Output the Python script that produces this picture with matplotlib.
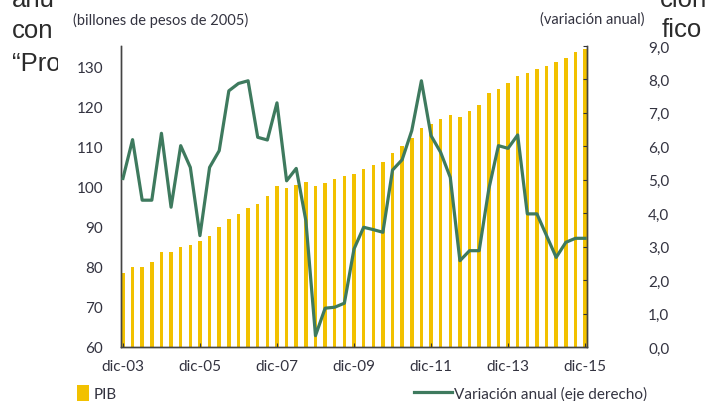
import matplotlib
matplotlib.use("Agg")
import matplotlib.pyplot as plt
from matplotlib.patches import Patch
from matplotlib.lines import Line2D
from matplotlib.ticker import FuncFormatter
from matplotlib.transforms import Bbox, TransformedBbox

# ---- data (quarterly, dic-03 .. dic-15) ----
pib = [78.4, 80.0, 80.0, 81.1, 83.6, 83.6, 85.0, 85.4, 86.3, 87.7,
       89.8, 91.8, 93.1, 94.7, 95.6, 97.6, 100.1, 99.7, 100.4, 101.1,
       100.1, 100.8, 101.8, 102.5, 103.2, 104.3, 105.3, 106.0, 108.4, 110.2,
       112.0, 114.5, 115.5, 116.7, 117.7, 117.3, 118.7, 120.2, 123.4, 124.4,
       125.8, 127.5, 128.3, 129.3, 130.0, 131.1, 132.1, 133.5, 134.3]
variacion = [5.04, 6.20, 4.39, 4.39, 6.39, 4.18, 6.02, 5.37, 3.33, 5.37,
             5.87, 7.66, 7.88, 7.96, 6.27, 6.19, 7.30, 4.97, 5.34, 3.78,
             0.34, 1.16, 1.19, 1.31, 2.93, 3.58, 3.51, 3.43, 5.29, 5.60,
             6.47, 7.96, 6.32, 5.82, 5.07, 2.58, 2.88, 2.88, 4.72, 6.02,
             5.94, 6.34, 3.98, 3.98, 3.33, 2.68, 3.13, 3.25, 3.25]
tick_labels = ["dic-03", "dic-05", "dic-07", "dic-09", "dic-11", "dic-13", "dic-15"]

GOLD = "#F2C100"
GREEN = "#3E7A5E"
TXT = "#333340"
plt.rcParams["font.family"] = ["Lato", "DejaVu Sans"]

fig = plt.figure(figsize=(7.05, 4.02), dpi=100)
W, H = 705, 402

# fragments of the surrounding document text, clipped at the chart box
left_clip = TransformedBbox(Bbox([[0, 0], [58 / W, 1]]), fig.transFigure)
right_clip = TransformedBbox(Bbox([[652 / W, 0], [1, 1]]), fig.transFigure)
doc = dict(family=["Liberation Sans"], fontsize=18.5, color="#2b2b2b",
           va="baseline", clip_on=True)
for s, xpix, base, ha, clip in [("anu", 12, 7, "left", left_clip),
                                ("con", 12, 38, "left", left_clip),
                                ("\u201cPro", 12, 71, "left", left_clip),
                                ("ción", 707, 7, "right", right_clip),
                                ("fico", 702, 37, "right", right_clip)]:
    t = fig.text(xpix / W, 1 - base / H, s, ha=ha, **doc)
    t.set_clip_box(clip)

ax = fig.add_axes([121 / W, 1 - 348 / H, (587 - 121) / W, (348 - 47) / H])
ax.patch.set_alpha(0)
x = list(range(len(pib)))
ax.bar(x, pib, width=0.36, color=GOLD, zorder=1)
ax.set_ylim(60, 135)
ax.set_xlim(-0.2, len(pib) - 0.8)
ax.set_yticks(range(60, 131, 10))
ax.set_xticks(range(0, len(pib), 8))
ax.set_xticklabels(tick_labels)

ax2 = ax.twinx()
ax2.plot(x, variacion, color=GREEN, lw=2.3, zorder=3)
ax2.set_ylim(0, 9)
ax2.set_yticks(range(0, 10))
ax2.yaxis.set_major_formatter(FuncFormatter(lambda v, p: f"{v:.1f}".replace(".", ",")))

for a in (ax, ax2):
    for s in a.spines.values():
        s.set_color("#444444")
        s.set_linewidth(1.0)
    a.spines["top"].set_visible(False)
ax.tick_params(axis="y", length=0, pad=13, labelsize=11, labelcolor=TXT)
ax.tick_params(axis="x", direction="in", length=3, color="#333333", pad=9,
               labelsize=11, labelcolor=TXT)
ax2.tick_params(axis="y", direction="in", length=3, color="#333333", pad=44,
                labelsize=11, labelcolor=TXT)

fig.text(73 / W, 1 - 20 / H, "(billones de pesos de 2005)", ha="left", va="center",
         fontsize=10.5, color=TXT)
fig.text(644 / W, 1 - 20 / H, "(variación anual)", ha="right", va="center",
         fontsize=10.5, color=TXT)

h1 = Patch(facecolor=GOLD, edgecolor="none")
h2 = Line2D([], [], color=GREEN, lw=2.3)
fig.legend([h1], ["PIB"], loc="center left", bbox_to_anchor=(77 / W, 1 - 394 / H),
           frameon=False, fontsize=11, labelcolor=TXT, handlelength=0.8,
           handleheight=1.2, handletextpad=0.3, borderaxespad=0, borderpad=0)
fig.legend([h2], ["Variación anual (eje derecho)"], loc="center left",
           bbox_to_anchor=(414 / W, 1 - 394 / H), frameon=False, fontsize=11,
           labelcolor=TXT, handlelength=2.5, handletextpad=0.1, borderaxespad=0,
           borderpad=0)

fig.savefig("out.png", dpi=100)
